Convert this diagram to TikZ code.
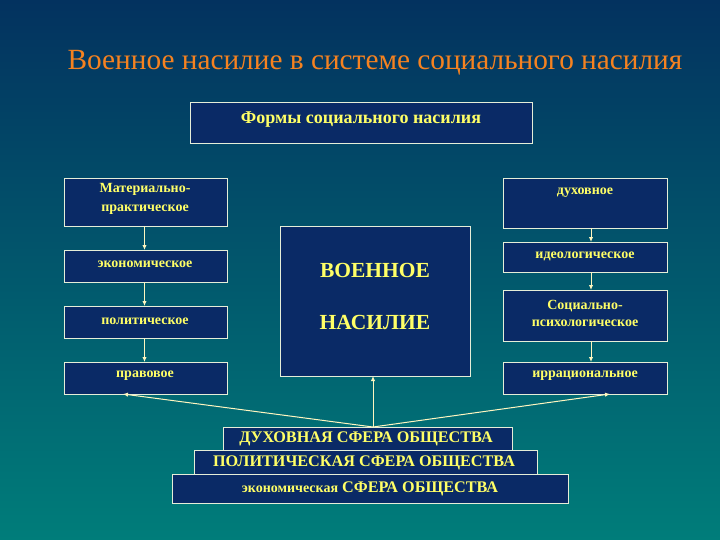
\documentclass[tikz,border=0pt]{standalone}
\usepackage{fontspec}
\setmainfont{Liberation Serif}
\usetikzlibrary{arrows.meta}
\definecolor{bgtop}{HTML}{03325F}
\definecolor{bgbot}{HTML}{007D7A}
\definecolor{boxfill}{HTML}{0A2A66}
\definecolor{boxline}{HTML}{E6EED8}
\definecolor{txtyel}{HTML}{FFFF66}
\definecolor{titleor}{HTML}{F58220}
\definecolor{connc}{HTML}{FFF6C0}
\definecolor{tipc}{HTML}{FFD98A}
\begin{document}
\begin{tikzpicture}[x=1pt,y=-1pt,
  box/.style={draw=boxline, fill=boxfill, line width=0.8pt, inner sep=0pt, outer sep=0pt, anchor=north west},
  lab/.style={text=txtyel, font=\bfseries\fontsize{14}{19}\selectfont, align=center, inner sep=0pt},
  biglab/.style={text=txtyel, font=\bfseries\fontsize{21.5}{24}\selectfont, inner sep=0pt},
  sphlab/.style={text=txtyel, font=\bfseries\fontsize{16.2}{18}\selectfont, inner sep=0pt},
  connline/.style={draw=connc, line width=1pt},
  arr/.style={connline, -{Latex[length=5pt,width=4.5pt,fill=tipc]}}]
\useasboundingbox (0,0) rectangle (720,540);
\fill[top color=bgtop, bottom color=bgbot] (0,0) rectangle (720,540);

\node[text=titleor, font=\fontsize{29.3}{32}\selectfont, inner sep=0pt] (title) at (375,63) {Военное насилие в системе социального насилия};

\node[box, minimum width=342pt, minimum height=41pt] (forms) at (190,102) {};
\node[lab, font=\bfseries\fontsize{18}{20}\selectfont] (formst) at (361,119.5) {Формы социального насилия};

\node[box, minimum width=163pt, minimum height=48pt] (L1) at (64,178) {};
\node[box, minimum width=163pt, minimum height=32pt] (L2) at (64,250) {};
\node[box, minimum width=163pt, minimum height=32pt] (L3) at (64,306) {};
\node[box, minimum width=163pt, minimum height=32pt] (L4) at (64,362) {};
\node[box, minimum width=190pt, minimum height=150pt] (C) at (280,226) {};
\node[box, minimum width=164pt, minimum height=50pt] (R1) at (503,178) {};
\node[box, minimum width=164pt, minimum height=30pt] (R2) at (503,242) {};
\node[box, minimum width=164pt, minimum height=51pt] (R3) at (503,290) {};
\node[box, minimum width=164pt, minimum height=32pt] (R4) at (503,362) {};
\node[box, minimum width=396pt, minimum height=29pt] (B3) at (172,474) {};
\node[box, minimum width=343pt, minimum height=24pt] (B2) at (194,450) {};
\node[box, minimum width=289pt, minimum height=23pt] (B1) at (223,427) {};

\node[lab] (L1t) at (145,199) {Материально-\\практическое};
\node[lab] (L2t) at (145,264.5) {экономическое};
\node[lab] (L3t) at (145,321.5) {политическое};
\node[lab] (L4t) at (145,375.5) {правовое};
\node[lab] (R1t) at (585,192.5) {духовное};
\node[lab] (R2t) at (585,256.5) {идеологическое};
\node[lab, font=\bfseries\fontsize{14}{17}\selectfont] (R3t) at (585,313) {Социально-\\психологическое};
\node[lab] (R4t) at (585,375.5) {иррациональное};
\node[biglab] (Ct1) at (375,270) {ВОЕННОЕ};
\node[biglab] (Ct2) at (375,322) {НАСИЛИЕ};
\node[sphlab] (B1t) at (366,439) {ДУХОВНАЯ СФЕРА ОБЩЕСТВА};
\node[sphlab] (B2t) at (364,463) {ПОЛИТИЧЕСКАЯ СФЕРА ОБЩЕСТВА};
\node[sphlab] (B3t) at (370,488.5) {{\fontsize{14}{18}\selectfont экономическая} СФЕРА ОБЩЕСТВА};

\draw[arr] ([xshift=-1pt]L1.south) -- ([xshift=-1pt]L2.north);
\draw[arr] ([xshift=-1pt]L2.south) -- ([xshift=-1pt]L3.north);
\draw[arr] ([xshift=-1pt]L3.south) -- ([xshift=-1pt]L4.north);
\draw[arr] ([xshift=6pt]R1.south) -- ([xshift=6pt]R2.north);
\draw[arr] ([xshift=6pt]R2.south) -- ([xshift=6pt]R3.north);
\draw[arr] ([xshift=6pt]R3.south) -- ([xshift=6pt]R4.north);

\coordinate (hub) at ([xshift=5.5pt]B1.north);
\draw[arr] (hub) -- ([xshift=-22.5pt]L4.south);
\draw[arr] (hub) -- ([xshift=25pt]R4.south);
\draw[arr] (hub) -- (hub |- C.south);
\end{tikzpicture}
\end{document}
